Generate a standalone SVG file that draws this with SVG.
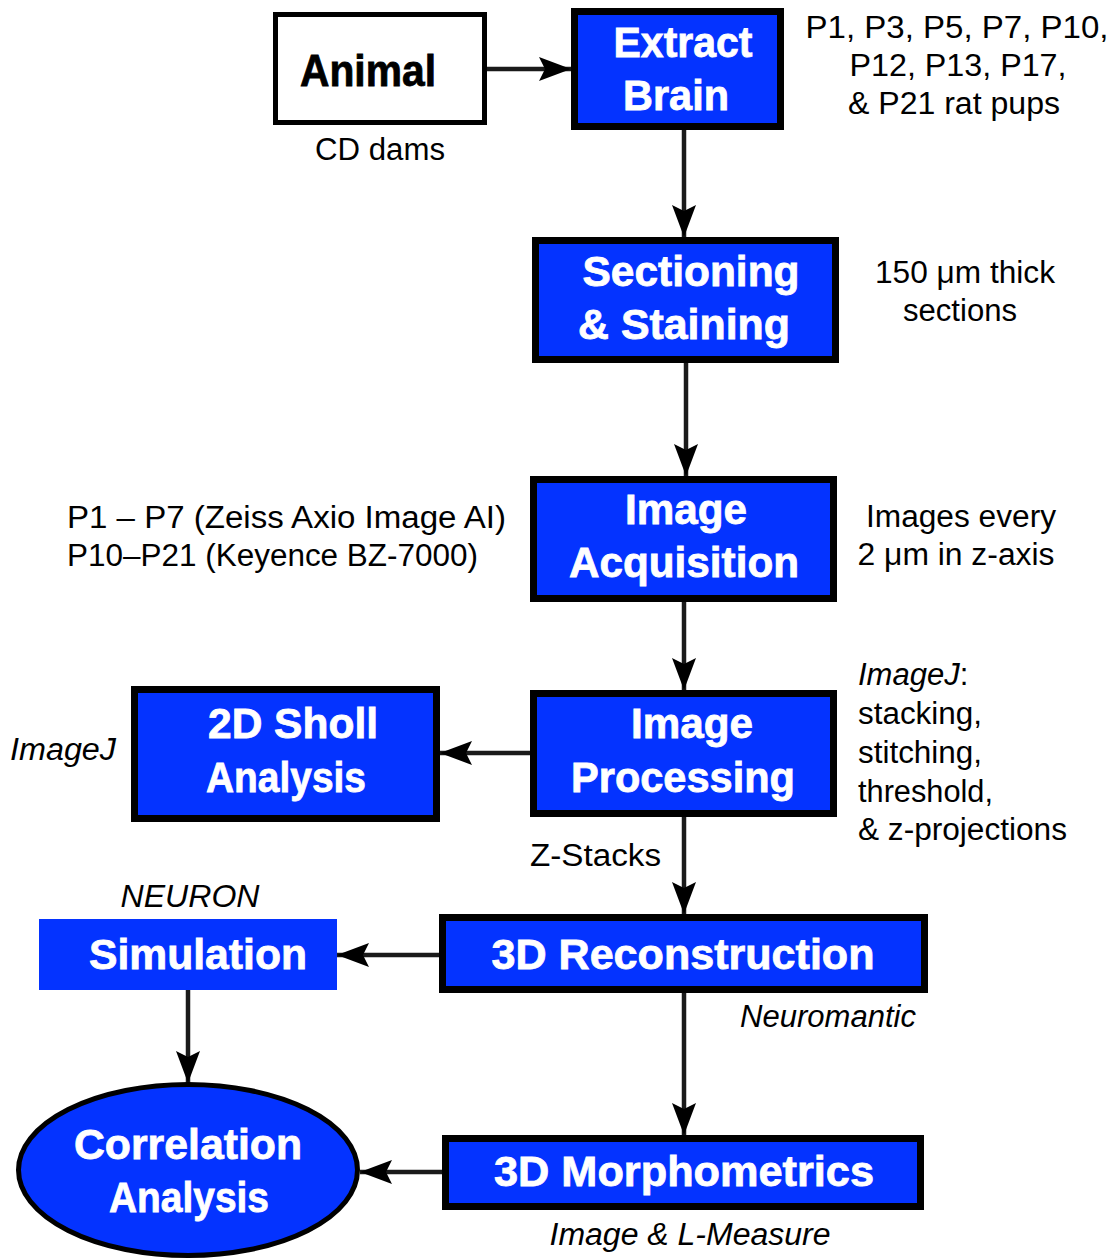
<svg xmlns="http://www.w3.org/2000/svg" width="1118" height="1259" viewBox="0 0 1118 1259">
  <style>
    .box { fill: #0433ff; stroke: #000; stroke-width: 7; }
    .plain { fill: #fff; stroke: #000; stroke-width: 5; }
    .btxt { font-family: "Liberation Sans", Arial, sans-serif; font-weight: bold; font-size: 43px; fill: #fff; stroke: #fff; stroke-width: 0.8; text-anchor: middle; }
    .ntxt { font-family: "Liberation Sans", Arial, sans-serif; font-size: 31px; fill: #000; }
    .it { font-style: italic; }
    .mid { text-anchor: middle; }
    .conn { stroke: #1a1a1a; stroke-width: 4.5; fill: none; marker-end: url(#arrow); }
  </style>
  <defs>
    <marker id="arrow" markerUnits="userSpaceOnUse" markerWidth="34" markerHeight="26" refX="32" refY="12" orient="auto">
      <path d="M0,0 L32,12 L0,24 L6,12 Z" fill="#000"/>
    </marker>
  </defs>
  <rect width="1118" height="1259" fill="#fff"/>

  <!-- connectors -->
  <g id="connectors">
    <path class="conn" d="M487,69 H571"/>
    <path class="conn" d="M684,130 V237"/>
    <path class="conn" d="M686,363 V476"/>
    <path class="conn" d="M684,602 V690"/>
    <path class="conn" d="M530,753 H440"/>
    <path class="conn" d="M684,817 V914"/>
    <path class="conn" d="M439,955 H337"/>
    <path class="conn" d="M188,990 V1083"/>
    <path class="conn" d="M684,993 V1135"/>
    <path class="conn" d="M442,1172 H360"/>
  </g>

  <g id="animal">
    <rect class="plain" x="275.5" y="14.5" width="209" height="108"/>
    <text x="368" y="86" font-family="Liberation Sans, Arial, sans-serif" font-weight="bold" font-size="44" stroke="#000" stroke-width="0.8" text-anchor="middle" textLength="136" lengthAdjust="spacingAndGlyphs">Animal</text>
    <text class="ntxt mid" x="380" y="160" textLength="130" lengthAdjust="spacingAndGlyphs">CD dams</text>
  </g>

  <g id="extract-brain">
    <rect class="box" x="574.5" y="11.5" width="206" height="115"/>
    <text class="btxt" x="683" y="57" textLength="139" lengthAdjust="spacingAndGlyphs">Extract</text>
    <text class="btxt" x="676" y="110" textLength="106" lengthAdjust="spacingAndGlyphs">Brain</text>
    <text class="ntxt mid" x="957" y="38" textLength="303" lengthAdjust="spacingAndGlyphs">P1, P3, P5, P7, P10,</text>
    <text class="ntxt mid" x="958" y="76" textLength="217" lengthAdjust="spacingAndGlyphs">P12, P13, P17,</text>
    <text class="ntxt mid" x="954" y="114" textLength="212" lengthAdjust="spacingAndGlyphs">&amp; P21 rat pups</text>
  </g>

  <g id="sectioning">
    <rect class="box" x="535.5" y="240.5" width="300" height="119"/>
    <text class="btxt" x="691" y="286" textLength="217" lengthAdjust="spacingAndGlyphs">Sectioning</text>
    <text class="btxt" x="684" y="339" textLength="212" lengthAdjust="spacingAndGlyphs">&amp; Staining</text>
    <text class="ntxt mid" x="965" y="283" textLength="180" lengthAdjust="spacingAndGlyphs">150 μm thick</text>
    <text class="ntxt mid" x="960" y="321" textLength="114" lengthAdjust="spacingAndGlyphs">sections</text>
  </g>

  <g id="image-acquisition">
    <rect class="box" x="533.5" y="479.5" width="300" height="119"/>
    <text class="btxt" x="686" y="524" textLength="122" lengthAdjust="spacingAndGlyphs">Image</text>
    <text class="btxt" x="684" y="577" textLength="230" lengthAdjust="spacingAndGlyphs">Acquisition</text>
    <text class="ntxt" x="67" y="528" textLength="439" lengthAdjust="spacingAndGlyphs">P1 – P7 (Zeiss Axio Image AI)</text>
    <text class="ntxt" x="67" y="566" textLength="411" lengthAdjust="spacingAndGlyphs">P10–P21 (Keyence BZ-7000)</text>
    <text class="ntxt mid" x="961" y="527" textLength="190" lengthAdjust="spacingAndGlyphs">Images every</text>
    <text class="ntxt mid" x="956" y="565" textLength="197" lengthAdjust="spacingAndGlyphs">2 μm in z-axis</text>
  </g>

  <g id="image-processing">
    <rect class="box" x="533.5" y="693.5" width="300" height="120"/>
    <text class="btxt" x="692" y="738" textLength="122" lengthAdjust="spacingAndGlyphs">Image</text>
    <text class="btxt" x="683" y="792" textLength="224" lengthAdjust="spacingAndGlyphs">Processing</text>
    <text class="ntxt" x="858" y="685"><tspan class="it">ImageJ</tspan>:</text>
    <text class="ntxt" x="858" y="724" textLength="124" lengthAdjust="spacingAndGlyphs">stacking,</text>
    <text class="ntxt" x="858" y="763" textLength="124" lengthAdjust="spacingAndGlyphs">stitching,</text>
    <text class="ntxt" x="858" y="802" textLength="135" lengthAdjust="spacingAndGlyphs">threshold,</text>
    <text class="ntxt" x="858" y="840" textLength="209" lengthAdjust="spacingAndGlyphs">&amp; z-projections</text>
    <text class="ntxt" x="530" y="866" textLength="131" lengthAdjust="spacingAndGlyphs">Z-Stacks</text>
  </g>

  <g id="sholl-analysis">
    <rect class="box" x="134.5" y="689.5" width="302" height="129"/>
    <text class="btxt" x="293" y="738" textLength="170" lengthAdjust="spacingAndGlyphs">2D Sholl</text>
    <text class="btxt" x="286" y="792" textLength="160" lengthAdjust="spacingAndGlyphs">Analysis</text>
    <text class="ntxt it" x="10" y="760" textLength="106" lengthAdjust="spacingAndGlyphs">ImageJ</text>
  </g>

  <g id="reconstruction">
    <rect class="box" x="442.5" y="917.5" width="482" height="72"/>
    <text class="btxt" x="683" y="969" textLength="383" lengthAdjust="spacingAndGlyphs">3D Reconstruction</text>
    <text class="ntxt it" x="740" y="1027" textLength="176" lengthAdjust="spacingAndGlyphs">Neuromantic</text>
  </g>

  <g id="simulation">
    <rect x="39" y="919" width="298" height="71" fill="#0433ff"/>
    <text class="btxt" x="198" y="969" textLength="218" lengthAdjust="spacingAndGlyphs">Simulation</text>
    <text class="ntxt it mid" x="190" y="907" textLength="139" lengthAdjust="spacingAndGlyphs">NEURON</text>
  </g>

  <g id="morphometrics">
    <rect class="box" x="445.5" y="1138.5" width="475" height="68"/>
    <text class="btxt" x="684" y="1186" textLength="380" lengthAdjust="spacingAndGlyphs">3D Morphometrics</text>
    <text class="ntxt it mid" x="690" y="1245" textLength="281" lengthAdjust="spacingAndGlyphs">Image &amp; L-Measure</text>
  </g>

  <g id="correlation-analysis">
    <ellipse cx="188" cy="1170" rx="169.5" ry="85.5" fill="#0433ff" stroke="#000" stroke-width="5"/>
    <text class="btxt" x="188" y="1159" textLength="228" lengthAdjust="spacingAndGlyphs">Correlation</text>
    <text class="btxt" x="189" y="1212" textLength="160" lengthAdjust="spacingAndGlyphs">Analysis</text>
  </g>
</svg>
